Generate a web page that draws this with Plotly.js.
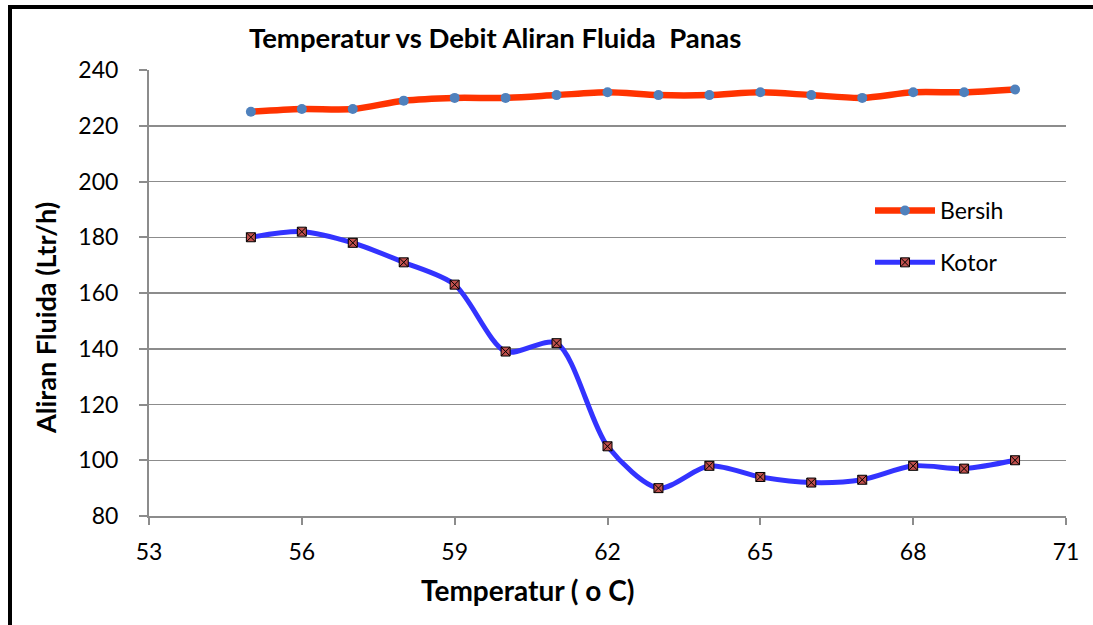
<!DOCTYPE html>
<html>
<head>
<meta charset="utf-8">
<script src="https://cdn.plot.ly/plotly-3.0.1.min.js"></script>
<style>
html,body{margin:0;padding:0;background:#fff;}
#chart{position:absolute;left:0;top:0;width:1093px;height:625px;}
#frame{position:absolute;left:8px;top:5px;width:1100px;height:700px;border-left:4px solid #000;border-top:4px solid #000;pointer-events:none;}
</style>
</head>
<body>
<div id="chart"></div>
<div id="frame"></div>
<script>
const temperatures = [55,56,57,58,59,60,61,62,63,64,65,66,67,68,69,70];
const bersih = [225,226,226,229,230,230,231,232,231,231,232,231,230,232,232,233];
const kotor = [180,182,178,171,163,139,142,105,90,98,94,92,93,98,97,100];
const xTicks = [53,56,59,62,65,68,71];
const yTicks = [80,100,120,140,160,180,200,220,240];
const seriesNames = ['Bersih','Kotor'];

const FONT = 'Lato, "Open Sans", sans-serif';

const traces = [
  {
    x: temperatures, y: bersih, name: seriesNames[0], type: 'scatter', mode: 'lines+markers',
    line: {color: '#FF3300', width: 6.5, shape: 'spline', smoothing: 0.8},
    marker: {color: '#4F81BD', size: 10, symbol: 'circle'},
    legendgroup: 'a'
  },
  {
    x: temperatures, y: kotor, name: seriesNames[1], type: 'scatter', mode: 'lines+markers',
    line: {color: '#3333FF', width: 5, shape: 'spline', smoothing: 0.8},
    marker: {color: '#C0504D', size: 9, symbol: 'square-x', line: {color: '#000', width: 1}},
    legendgroup: 'b'
  }
];

const layout = {
  width: 1093, height: 625,
  margin: {l: 149, r: 27, t: 70, b: 109, autoexpand: false},
  paper_bgcolor: '#fff', plot_bgcolor: '#fff',
  font: {family: FONT, color: '#000', size: 23},
  title: {text: '<b>Temperatur vs Debit Aliran Fluida  Panas</b>', font: {family: FONT, size: 27.5, color: '#000'},
          xref: 'container', x: 0.453, xanchor: 'center', yref: 'container', y: 0.939, yanchor: 'middle'},
  xaxis: {
    range: [53, 71], tickvals: xTicks, ticktext: xTicks.map(String),
    showgrid: false, zeroline: false,
    showline: true, linecolor: '#8c8c8c', linewidth: 2,
    ticks: 'outside', ticklen: 7, tickcolor: '#8c8c8c', tickwidth: 2,
    ticklabelstandoff: 7,
    tickfont: {family: FONT, size: 23, color: '#000'}
  },
  yaxis: {
    range: [80, 240], tickvals: yTicks, ticktext: yTicks.map(String),
    showgrid: true, gridcolor: '#8c8c8c', gridwidth: 1.5, zeroline: false,
    showline: true, linecolor: '#8c8c8c', linewidth: 2,
    ticks: 'outside', ticklen: 8, tickcolor: '#8c8c8c', tickwidth: 2,
    ticklabelstandoff: 16,
    tickfont: {family: FONT, size: 23, color: '#000'}
  },
  showlegend: true,
  legend: {
    x: 870/1093, xref: 'container', y: 1 - 189/625, yref: 'container', xanchor: 'left', yanchor: 'top',
    font: {family: FONT, size: 23, color: '#000'}, bgcolor: 'rgba(0,0,0,0)',
    traceorder: 'grouped', tracegroupgap: 19, itemwidth: 60
  },
  annotations: [
    {text: '<b>Aliran Fluida (Ltr/h)</b>', xref: 'paper', yref: 'paper', x: -104/917, y: (516-318)/446,
     xanchor: 'center', yanchor: 'middle', textangle: -90, showarrow: false, font: {family: FONT, size: 27, color: '#000'}},
    {text: '<b>Temperatur ( o C)</b>', xref: 'paper', yref: 'paper', x: (527-149)/917, y: -(590-516)/446,
     xanchor: 'center', yanchor: 'middle', showarrow: false, font: {family: FONT, size: 28, color: '#000'}}
  ]
};

Plotly.newPlot('chart', traces, layout, {displayModeBar: false, staticPlot: true});
</script>
</body>
</html>
